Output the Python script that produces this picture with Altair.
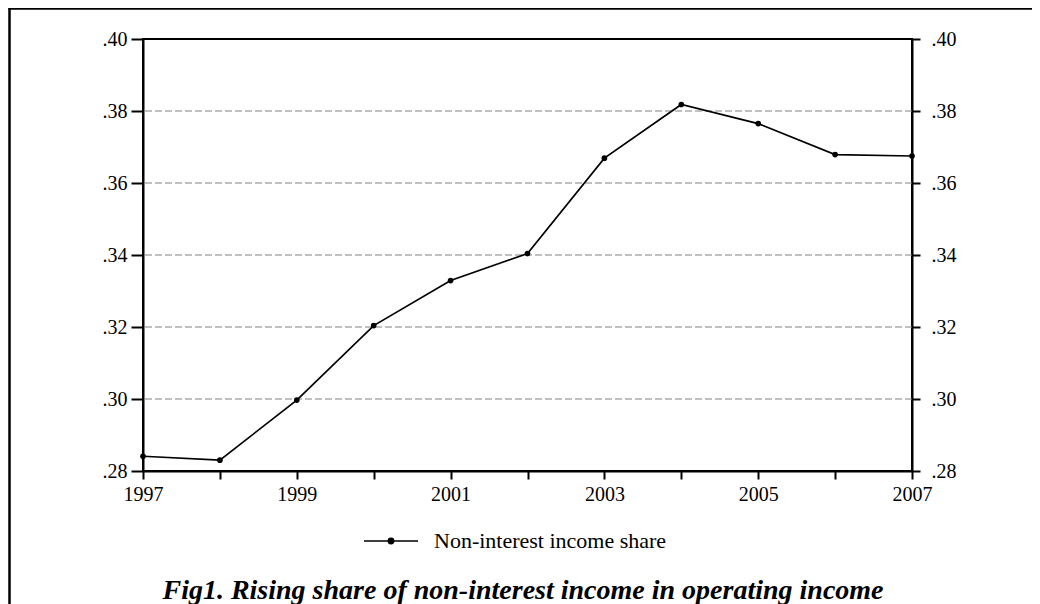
import altair as alt
import pandas as pd

years = [1997, 1998, 1999, 2000, 2001, 2002, 2003, 2004, 2005, 2006, 2007]
share = [0.2841, 0.2830, 0.2997, 0.3204, 0.3329, 0.3404, 0.3669, 0.3818, 0.3765, 0.3679, 0.3675]
series_name = "Non-interest income share"
y_ticks = [0.28, 0.30, 0.32, 0.34, 0.36, 0.38, 0.40]
grid_values = [0.30, 0.32, 0.34, 0.36, 0.38]
x_ticks = years
title_text = "Fig1. Rising share of non-interest income in operating income"

df = pd.DataFrame({"year": years, "share": share, "series": [series_name] * len(years)})
grid_df = pd.DataFrame({"share": grid_values})
one = pd.DataFrame({"k": [0]})
title_df = pd.DataFrame({"t": [title_text]})

FONT = "Liberation Serif"
ylab = "replace(format(datum.value, '.2f'), '0.', '.')"
xlab = "datum.value % 2 == 1 ? format(datum.value, 'd') : ''"

xscale = alt.Scale(domain=[1997, 2007], nice=False, zero=False)
yscale = alt.Scale(domain=[0.28, 0.40], nice=False, zero=False)

x_enc = alt.X("year:Q", scale=xscale, axis=alt.Axis(
    values=x_ticks, labelExpr=xlab, title=None, grid=False, domainColor="black",
    domainWidth=2, tickColor="black", tickWidth=2, tickSize=8, labelPadding=5,
    labelFont=FONT, labelFontSize=20, labelColor="black", labelFlush=False,
    labelOverlap=False))

y_left = alt.Y("share:Q", scale=yscale, axis=alt.Axis(
    values=y_ticks, labelExpr=ylab, title=None, orient="left", grid=False,
    domainColor="black", domainWidth=2, tickColor="black", tickWidth=2, tickSize=12,
    labelPadding=4, labelFont=FONT, labelFontSize=20, labelColor="black",
    labelFlush=False))

y_right = alt.Y("share:Q", scale=yscale, axis=alt.Axis(
    values=y_ticks, labelExpr=ylab, title=None, orient="right", grid=False,
    domainColor="black", domainWidth=2, tickColor="black", tickWidth=2, tickSize=8,
    labelPadding=11, labelFont=FONT, labelFontSize=20, labelColor="black",
    labelFlush=False))

legend_path = "M-1,0H1M0.1,0A0.1,0.1,0,1,1,-0.1,0A0.1,0.1,0,1,1,0.1,0Z"

grid = alt.Chart(grid_df).mark_rule(color="#808080", strokeWidth=1, strokeDash=[7, 3]).encode(
    y=alt.Y("share:Q", scale=yscale, axis=None))

line = alt.Chart(df).mark_line(strokeWidth=1.7).encode(
    x=x_enc, y=y_left,
    color=alt.Color("series:N", scale=alt.Scale(domain=[series_name], range=["black"]),
                    legend=alt.Legend(
                        title=None, orient="none", legendX=220, legendY=474,
                        symbolType=legend_path, symbolSize=2916, labelFont=FONT,
                        labelFontSize=22, labelColor="black", labelOffset=15, padding=0,
                        labelLimit=500,
                        symbolStrokeWidth=1.5, symbolFillColor="black",
                        symbolStrokeColor="black")),
)

points = alt.Chart(df).mark_circle(size=32, color="black", opacity=1).encode(
    x=x_enc, y=y_right)

frame_left = alt.Chart(one).mark_rule(color="black", strokeWidth=2.5).encode(
    x=alt.value(-133.5), y=alt.value(-31), y2=alt.value(575))
frame_top = alt.Chart(one).mark_rule(color="black", strokeWidth=2.5).encode(
    x=alt.value(-134.5), x2=alt.value(1000), y=alt.value(-30.5))

title_mark = alt.Chart(title_df).mark_text(
    font=FONT, fontSize=28, fontStyle="italic", fontWeight="bold", color="black",
    align="center", baseline="alphabetic").encode(
    text="t:N", x=alt.value(380), y=alt.value(560))

chart = alt.layer(frame_left, frame_top, grid, line, points, title_mark).resolve_axis(y="independent").properties(
    width=769, height=432,
    autosize=alt.AutoSizeParams(type="none"),
    padding={"left": 135, "top": 31, "right": 120, "bottom": 133},
    background="white",
).configure_view(stroke="black", strokeWidth=2)

chart.save("out.html", embed_options={"renderer": "svg", "actions": False})
